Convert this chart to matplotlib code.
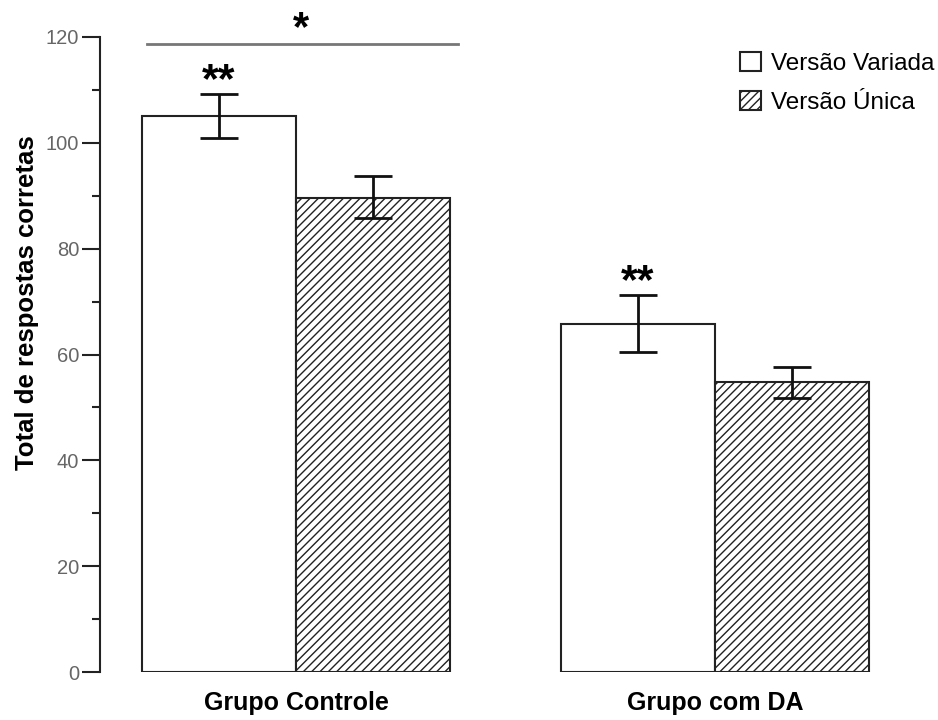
import matplotlib.pyplot as plt
import numpy as np

groups = ['Grupo Controle', 'Grupo com DA']
series = ['Versão Variada', 'Versão Única']
variada = [105.1, 65.8]
variada_err_low = [101.0, 60.5]
variada_err_high = [109.3, 71.3]
unica = [89.6, 54.8]
unica_err_low = [85.8, 51.8]
unica_err_high = [93.8, 57.7]

plt.rcParams['font.family'] = ['Liberation Sans', 'DejaVu Sans']
plt.rcParams['hatch.linewidth'] = 1.0

fig = plt.figure(figsize=(9.38, 7.2), dpi=100)
ax = fig.add_axes([100 / 938, 48 / 720, 800 / 938, 635 / 720])

centers = np.array([0.5, 3.22])
w = 1.0
x_var = centers - w / 2
x_uni = centers + w / 2

ax.bar(x_var, variada, width=w, color='white', edgecolor='#222222', linewidth=1.5,
       label=series[0], zorder=2)
ax.bar(x_uni, unica, width=w, color='white', edgecolor='#222222', linewidth=1.5,
       hatch='////', label=series[1], zorder=2)

err_var = [np.array(variada) - np.array(variada_err_low), np.array(variada_err_high) - np.array(variada)]
err_uni = [np.array(unica) - np.array(unica_err_low), np.array(unica_err_high) - np.array(unica)]
ax.errorbar(x_var, variada, yerr=err_var, fmt='none', ecolor='#111111', elinewidth=2,
            capsize=14, capthick=2, zorder=3)
ax.errorbar(x_uni, unica, yerr=err_uni, fmt='none', ecolor='#111111', elinewidth=2,
            capsize=14, capthick=2, zorder=3)

# significance marks
for xi, top in zip(x_var, variada_err_high):
    ax.text(xi, top - 1.4, '**', ha='center', va='bottom', fontsize=31, fontweight='bold',
            clip_on=False)
ax.plot([x_var[0] - 0.47, x_uni[0] + 0.55], [118.7, 118.7], color='#777777', lw=2,
        clip_on=False)
ax.text(x_var[0] + 0.53, 117.8, '*', ha='center', va='bottom', fontsize=30,
        fontweight='bold', clip_on=False)

ax.set_xlim(-0.773, 4.422)
ax.set_ylim(0, 120)
for s in ['top', 'right', 'bottom']:
    ax.spines[s].set_visible(False)
ax.spines['left'].set_linewidth(1.5)
ax.spines['left'].set_color('#222222')
ax.set_yticks(np.arange(0, 121, 20))
ax.set_yticks(np.arange(10, 120, 20), minor=True)
ax.tick_params(axis='y', which='major', length=13, width=1.5, color='#222222',
               labelsize=14.5, labelcolor='#666666', pad=2)
ax.tick_params(axis='y', which='minor', length=6, width=1.5, color='#222222')
ax.set_xticks(centers)
ax.set_xticklabels(groups, fontsize=18, fontweight='bold')
ax.tick_params(axis='x', length=0, pad=14)

fig.text(27 / 938, 1 - 303 / 720, 'Total de respostas corretas', rotation=90,
         ha='center', va='center', fontsize=18.5, fontweight='bold')

fig.legend(loc='upper left', bbox_to_anchor=(740 / 938, 1 - 52 / 720), frameon=False,
           fontsize=17.5, handlelength=0.85, handleheight=0.85, handletextpad=0.42,
           labelspacing=0.65, borderpad=0, borderaxespad=0)

fig.savefig('out.png', dpi=100)
